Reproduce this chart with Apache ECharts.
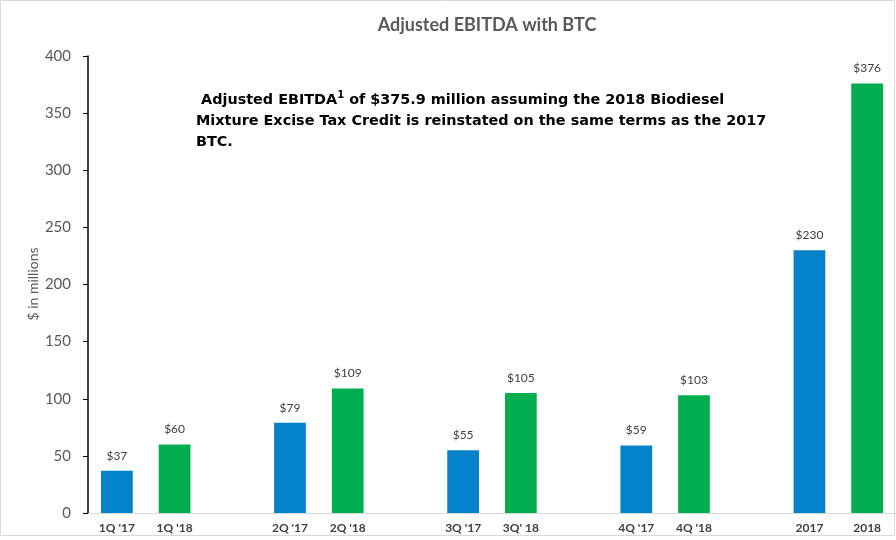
<!DOCTYPE html>
<html>
<head>
<meta charset="utf-8">
<script src="https://cdn.jsdelivr.net/npm/echarts@6/dist/echarts.min.js"></script>
<style>html,body{margin:0;padding:0;background:#fff}#c{width:896px;height:540px}</style>
</head>
<body>
<div id="c"></div>
<script>
const categories = ["1Q '17","1Q '18","","2Q '17","2Q '18","","3Q '17","3Q' 18","","4Q '17","4Q '18","","2017","2018"];
const values2017 = [37, null, null, 79, null, null, 55, null, null, 59, null, null, 230, null];
const values2018 = [null, 60, null, null, 109, null, null, 105, null, null, 103, null, null, 376];
const yTicks = [0, 50, 100, 150, 200, 250, 300, 350, 400];
const yAxisTitle = '$ in millions';

const chart = echarts.init(document.getElementById('c'), null, {renderer: 'canvas'});
const labelCfg = {
  show: true, position: 'top', distance: 9,
  color: '#404040', fontSize: 12, fontFamily: 'Lato',
  formatter: p => '$' + p.value
};
chart.setOption({
  animation: false,
  backgroundColor: '#fff',
  title: {
    text: 'Adjusted EBITDA with BTC',
    left: 482, top: 11, textAlign: 'center',
    textStyle: {fontFamily: 'Lato', fontSize: 18, fontWeight: 'bold', color: '#595959'}
  },
  grid: {left: 88, right: 0, top: 56, bottom: 27, containLabel: false},
  xAxis: {
    type: 'category', data: categories,
    axisLine: {lineStyle: {color: '#d9d9d9', width: 1}},
    axisTick: {show: false},
    axisLabel: {interval: 0, color: '#404040', fontFamily: 'Lato', fontWeight: 'bold', fontSize: 12, margin: 9}
  },
  yAxis: {
    type: 'value', min: yTicks[0], max: yTicks[yTicks.length - 1], interval: 50,
    axisLine: {show: true, lineStyle: {color: '#000', width: 1.5}},
    axisTick: {show: true, length: 5, lineStyle: {color: '#000'}},
    axisLabel: {color: '#595959', fontFamily: 'Lato', fontSize: 15, margin: 17},
    splitLine: {show: false}
  },
  series: [
    {name: '2017', type: 'bar', data: values2017, barWidth: '55%', barGap: '-100%',
     itemStyle: {color: '#0482C9'}, label: labelCfg},
    {name: '2018', type: 'bar', data: values2018, barWidth: '55%', barGap: '-100%',
     itemStyle: {color: '#00AE50'}, label: labelCfg}
  ],
  graphic: [
    {type: 'rect', shape: {x: 0.5, y: 0.5, width: 894, height: 535}, style: {fill: null, stroke: '#d9d9d9', lineWidth: 1}, silent: true},
    {type: 'text', x: 33, y: 284, rotation: Math.PI / 2,
     style: {text: yAxisTitle, fontFamily: 'Lato', fontSize: 14, fill: '#595959', align: 'center', verticalAlign: 'middle'}},
    {type: 'text', left: 196, top: 90,
     style: {
       text: ' Adjusted EBITDA{sup|1} of $375.9 million assuming the 2018 Biodiesel\nMixture Excise Tax Credit is reinstated on the same terms as the 2017\nBTC.',
       fontFamily: 'DejaVu Sans', fontWeight: 'bold', fontSize: 14.4, lineHeight: 21, fill: '#000',
       rich: {sup: {fontFamily: 'DejaVu Sans', fontWeight: 'bold', fontSize: 10, verticalAlign: 'top', lineHeight: 21, padding: [0,0,6,0]}}
     }}
  ]
});
</script>
</body>
</html>
